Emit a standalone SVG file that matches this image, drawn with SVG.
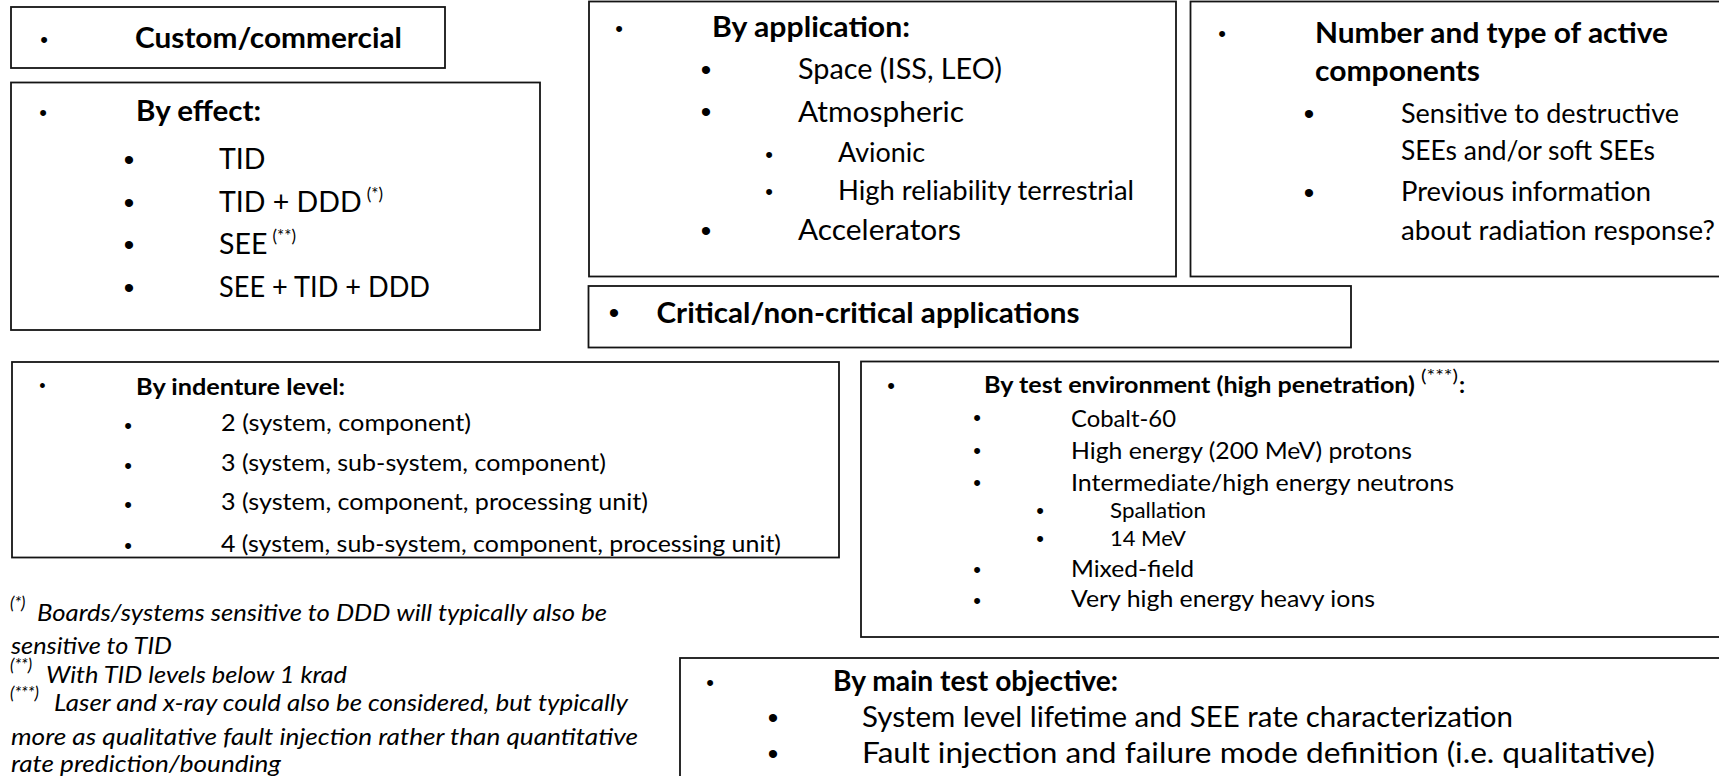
<svg xmlns="http://www.w3.org/2000/svg" width="1719" height="776" viewBox="0 0 1719 776">
<style>
.box{fill:none;stroke:#141414;stroke-width:1.8}
.t{font-family:Lato,"Open Sans","Liberation Sans",sans-serif;fill:#000}
.bd{font-weight:700}
.s32{font-size:28.5px}
.s29{font-size:26px}
.s27{font-size:23.7px}
.s24{font-size:21.3px}
.sup{font-size:17px}
.fn{font-style:italic;font-size:23.7px}
.bu{font-family:"Liberation Sans",Arial,sans-serif;fill:#000;text-anchor:middle}
.bxs{font-size:18px}
.bs{font-size:22px}
.bm{font-size:30px}
</style>
<rect width="1719" height="776" fill="#fff"/>
<g id="connectors"/>

<g id="custom">
<rect class="box" x="11" y="7" width="434" height="61"/>
<text class="bu bs" x="44" y="46.5">•</text>
<text class="t bd s32" x="135" y="48" textLength="267" lengthAdjust="spacingAndGlyphs">Custom/commercial</text>
</g>

<g id="effect">
<rect class="box" x="11" y="82.5" width="529" height="247.5"/>
<text class="bu bs" x="43" y="119.5">•</text>
<text class="t bd s32" x="136" y="121" textLength="125" lengthAdjust="spacingAndGlyphs">By effect:</text>
<text class="bu bm" x="129" y="170">•</text>
<text class="bu bm" x="129" y="213">•</text>
<text class="bu bm" x="129" y="255">•</text>
<text class="bu bm" x="129" y="298">•</text>
<text class="t s32" x="219" y="169">TID</text>
<text class="t s32" x="219" y="212">TID + DDD<tspan class="sup" dx="5" dy="-12">(*)</tspan></text>
<text class="t s32" x="219" y="254">SEE<tspan class="sup" dx="5" dy="-12">(**)</tspan></text>
<text class="t s32" x="219" y="297" textLength="211" lengthAdjust="spacingAndGlyphs">SEE + TID + DDD</text>
</g>

<g id="application">
<rect class="box" x="589" y="1.5" width="587" height="275"/>
<text class="bu bs" x="619" y="35.5">•</text>
<text class="t bd s32" x="712" y="37" textLength="198" lengthAdjust="spacingAndGlyphs">By application:</text>
<text class="bu bm" x="706" y="80">•</text>
<text class="bu bm" x="706" y="122">•</text>
<text class="bu bm" x="706" y="241">•</text>
<text class="t s32" x="798" y="79" textLength="204" lengthAdjust="spacingAndGlyphs">Space (ISS, LEO)</text>
<text class="t s32" x="798" y="121.5" textLength="166" lengthAdjust="spacingAndGlyphs">Atmospheric</text>
<text class="t s32" x="798" y="240" textLength="163" lengthAdjust="spacingAndGlyphs">Accelerators</text>
<text class="bu bs" x="769" y="161.5">•</text>
<text class="bu bs" x="769" y="198.5">•</text>
<text class="t s29" x="838" y="162" textLength="87" lengthAdjust="spacingAndGlyphs">Avionic</text>
<text class="t s29" x="838" y="199.5" textLength="296" lengthAdjust="spacingAndGlyphs">High reliability terrestrial</text>
</g>

<g id="components">
<rect class="box" x="1190.5" y="1.5" width="540" height="275"/>
<text class="bu bs" x="1222" y="40.5">•</text>
<text class="t bd s32" x="1315" y="42.5" textLength="353" lengthAdjust="spacingAndGlyphs">Number and type of active</text>
<text class="t bd s32" x="1315" y="81" textLength="165" lengthAdjust="spacingAndGlyphs">components</text>
<text class="bu bm" x="1309" y="124">•</text>
<text class="bu bm" x="1309" y="203">•</text>
<text class="t s29" x="1401" y="122.5" textLength="278" lengthAdjust="spacingAndGlyphs">Sensitive to destructive</text>
<text class="t s29" x="1401" y="160" textLength="254" lengthAdjust="spacingAndGlyphs">SEEs and/or soft SEEs</text>
<text class="t s29" x="1401" y="201" textLength="250" lengthAdjust="spacingAndGlyphs">Previous information</text>
<text class="t s29" x="1401" y="240" textLength="314" lengthAdjust="spacingAndGlyphs">about radiation response?</text>
</g>

<g id="critical">
<rect class="box" x="588.5" y="286" width="762.5" height="61.5"/>
<text class="bu bm" x="614" y="323">•</text>
<text class="t bd s32" x="656.5" y="323" textLength="423" lengthAdjust="spacingAndGlyphs">Critical/non-critical applications</text>
</g>

<g id="indenture">
<rect class="box" x="12" y="362" width="827" height="195.5"/>
<text class="bu bxs" x="42.5" y="392">•</text>
<text class="t bd s27" x="136" y="395" textLength="209" lengthAdjust="spacingAndGlyphs">By indenture level:</text>
<text class="bu bs" x="128" y="432.5">•</text>
<text class="bu bs" x="128" y="472.5">•</text>
<text class="bu bs" x="128" y="511.5">•</text>
<text class="bu bs" x="128" y="553">•</text>
<text class="t s27" x="221" y="431" textLength="250" lengthAdjust="spacingAndGlyphs">2 (system, component)</text>
<text class="t s27" x="221" y="471" textLength="385" lengthAdjust="spacingAndGlyphs">3 (system, sub-system, component)</text>
<text class="t s27" x="221" y="510" textLength="427" lengthAdjust="spacingAndGlyphs">3 (system, component, processing unit)</text>
<text class="t s27" x="221" y="551.5" textLength="560" lengthAdjust="spacingAndGlyphs">4 (system, sub-system, component, processing unit)</text>
</g>

<g id="environment">
<rect class="box" x="861" y="361.5" width="870" height="275.5"/>
<text class="bu bs" x="891" y="393">•</text>
<text class="t bd s27" x="984" y="393" textLength="431" lengthAdjust="spacingAndGlyphs">By test environment (high penetration)</text>
<text class="t sup" x="1421" y="382" textLength="37" lengthAdjust="spacingAndGlyphs">(***)</text>
<text class="t bd s27" x="1459" y="393">:</text>
<text class="bu bs" x="977" y="424.5">•</text>
<text class="bu bs" x="977" y="457.5">•</text>
<text class="bu bs" x="977" y="489.5">•</text>
<text class="bu bs" x="977" y="576.5">•</text>
<text class="bu bs" x="977" y="607.5">•</text>
<text class="t s27" x="1071" y="426.5" textLength="105" lengthAdjust="spacingAndGlyphs">Cobalt-60</text>
<text class="t s27" x="1071" y="459" textLength="341" lengthAdjust="spacingAndGlyphs">High energy (200 MeV) protons</text>
<text class="t s27" x="1071" y="490.5" textLength="383" lengthAdjust="spacingAndGlyphs">Intermediate/high energy neutrons</text>
<text class="t s27" x="1071" y="577" textLength="123" lengthAdjust="spacingAndGlyphs">Mixed-field</text>
<text class="t s27" x="1071" y="607" textLength="304" lengthAdjust="spacingAndGlyphs">Very high energy heavy ions</text>
<text class="bu bs" x="1040" y="518">•</text>
<text class="bu bs" x="1040" y="546">•</text>
<text class="t s24" x="1110" y="518" textLength="96" lengthAdjust="spacingAndGlyphs">Spallation</text>
<text class="t s24" x="1110" y="546" textLength="76" lengthAdjust="spacingAndGlyphs">14 MeV</text>
</g>

<g id="objective">
<rect class="box" x="680" y="658" width="1050" height="130"/>
<text class="bu bs" x="710" y="689.5">•</text>
<text class="t bd s32" x="833" y="691" textLength="285" lengthAdjust="spacingAndGlyphs">By main test objective:</text>
<text class="bu bm" x="773" y="728">•</text>
<text class="bu bm" x="773" y="764">•</text>
<text class="t s32" x="862" y="727" textLength="651" lengthAdjust="spacingAndGlyphs">System level lifetime and SEE rate characterization</text>
<text class="t s32" x="862" y="763" textLength="793" lengthAdjust="spacingAndGlyphs">Fault injection and failure mode definition (i.e. qualitative)</text>
</g>

<g id="notes">
<text class="t fn" y="621"><tspan class="sup" x="10" dy="-12">(*)</tspan><tspan x="37" dy="12" textLength="570" lengthAdjust="spacingAndGlyphs">Boards/systems sensitive to DDD will typically also be</tspan></text>
<text class="t fn" x="11" y="654" textLength="161" lengthAdjust="spacingAndGlyphs">sensitive to TID</text>
<text class="t fn" y="683"><tspan class="sup" x="10" dy="-12">(**)</tspan><tspan x="46" dy="12" textLength="301" lengthAdjust="spacingAndGlyphs">With TID levels below 1 krad</tspan></text>
<text class="t fn" y="711"><tspan class="sup" x="10" dy="-12">(***)</tspan><tspan x="54" dy="12" textLength="574" lengthAdjust="spacingAndGlyphs">Laser and x-ray could also be considered, but typically</tspan></text>
<text class="t fn" x="11" y="745" textLength="627" lengthAdjust="spacingAndGlyphs">more as qualitative fault injection rather than quantitative</text>
<text class="t fn" x="11" y="772" textLength="270" lengthAdjust="spacingAndGlyphs">rate prediction/bounding</text>
</g>
</svg>
